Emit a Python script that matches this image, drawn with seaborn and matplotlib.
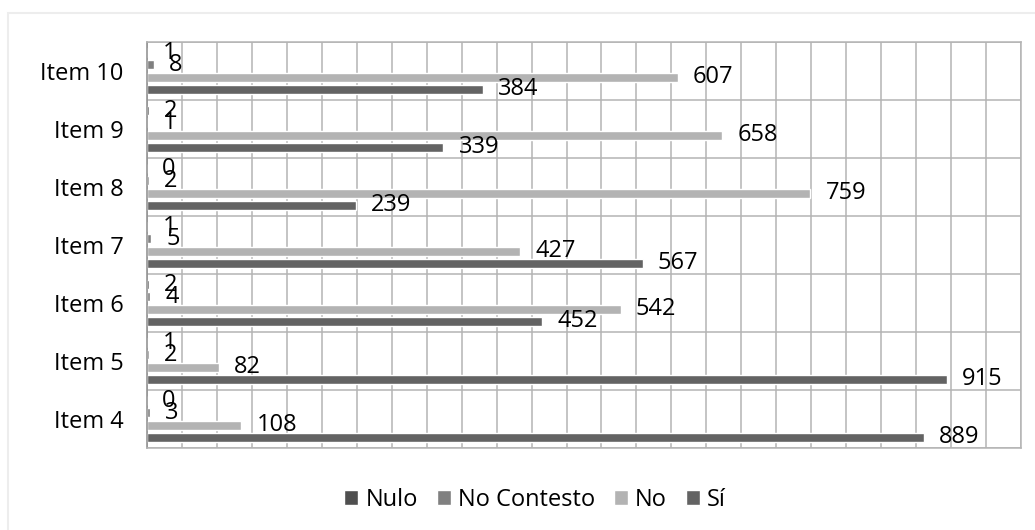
import numpy as np
import pandas as pd
import matplotlib
matplotlib.use('Agg')
import matplotlib.pyplot as plt
import seaborn as sns
from matplotlib.patches import Rectangle

# Datos (de abajo hacia arriba en el gráfico: Item 4 ... Item 10)
items = ['Item 4', 'Item 5', 'Item 6', 'Item 7', 'Item 8', 'Item 9', 'Item 10']
si = [889, 915, 452, 567, 239, 339, 384]
no = [108, 82, 542, 427, 759, 658, 607]
no_contesto = [3, 2, 4, 5, 2, 1, 8]
nulo = [0, 1, 2, 1, 0, 2, 1]

series = ['Nulo', 'No Contesto', 'No', 'Sí']
colores = ['#4f4f4f', '#808080', '#b3b3b3', '#636363']

# Tabla larga para seaborn
valores = {'Nulo': nulo, 'No Contesto': no_contesto, 'No': no, 'Sí': si}
filas = []
for s in series:
    for it, v in zip(items, valores[s]):
        filas.append({'item': it, 'serie': s, 'valor': v})
df = pd.DataFrame(filas)

sns.set_style('white')
plt.rcParams['font.family'] = ['Open Sans', 'DejaVu Sans']
plt.rcParams['text.color'] = 'black'
plt.rcParams['ytick.color'] = 'black'

fig = plt.figure(figsize=(10.35, 5.3), dpi=100)
ax = fig.add_axes([147 / 1035, 1 - 448 / 530, (1021 - 147) / 1035, (448 - 42) / 530])

orden = items[::-1]  # Item 10 arriba
sns.barplot(data=df, x='valor', y='item', hue='serie', order=orden,
            hue_order=series, palette=colores, orient='h',
            width=0.83, gap=0.25, saturation=1, ax=ax, legend=True)

# Etiquetas de datos
for cont in ax.containers:
    ax.bar_label(cont, fmt='%d', padding=11, fontsize=17, color='black')

# Ejes y cuadrícula
ax.set_xlim(0, 1000)
ax.set_ylim(6.5, -0.5)
ax.set_xticks(np.arange(0, 1001, 40))
ax.set_xticklabels([])
ax.set_yticks(np.arange(-0.5, 7, 1), minor=True)
ax.grid(axis='x', which='major', color='#b4b4b4', linewidth=1.1)
ax.grid(axis='y', which='minor', color='#b4b4b4', linewidth=1.1)
ax.grid(axis='y', which='major', visible=False)
ax.set_axisbelow(True)
ax.tick_params(axis='both', which='both', length=0)
ax.tick_params(axis='y', labelsize=17, pad=17, labelcolor='black')
ax.set_xlabel('')
ax.set_ylabel('')
for lado in ['top', 'right', 'bottom']:
    ax.spines[lado].set_color('#b4b4b4')
    ax.spines[lado].set_linewidth(1.1)
ax.spines['left'].set_color('#8c8c8c')
ax.spines['left'].set_linewidth(1.1)

# Leyenda abajo
ax.legend_.remove()
handles, labels = ax.get_legend_handles_labels()
fig.legend(handles, labels, loc='center', bbox_to_anchor=(535 / 1035, 1 - 500 / 530),
           ncol=4, frameon=False, fontsize=17, handlelength=0.6, handleheight=0.6,
           handletextpad=0.3, columnspacing=0.8, labelcolor='black')

# Borde exterior del área del gráfico
fig.patches.append(Rectangle((8 / 1035, -0.1), 1.2, 0.1 + 1 - 13 / 530,
                             transform=fig.transFigure, fill=False,
                             edgecolor='#ededed', linewidth=1.5))

fig.savefig('out.png', dpi=100)
